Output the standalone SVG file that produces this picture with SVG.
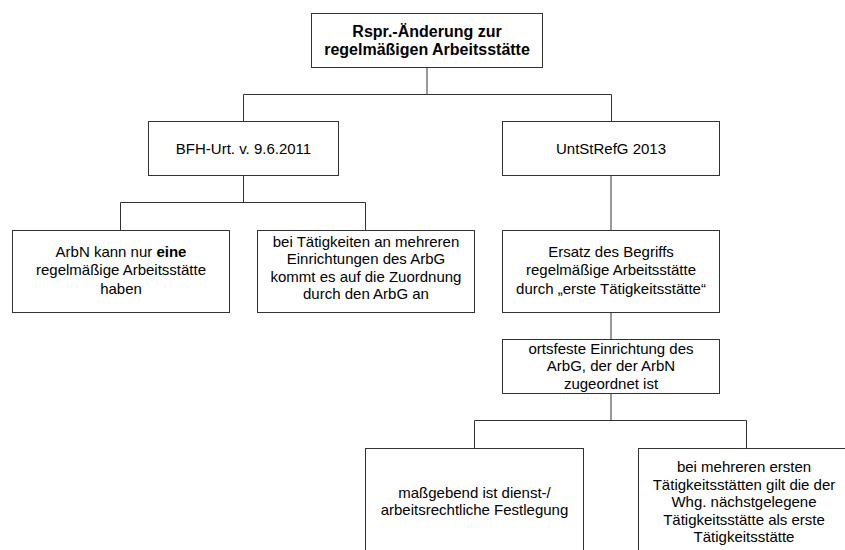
<svg xmlns="http://www.w3.org/2000/svg" width="845" height="550" viewBox="0 0 845 550">
<style>
.box{fill:#fff;stroke:#333;stroke-width:1}
.con{fill:none;stroke:#333;stroke-width:1}
text{font-family:"Liberation Sans",Arial,sans-serif;font-size:15px;fill:#000;text-anchor:middle}
.b{font-weight:bold}
.t{font-size:16px;font-weight:bold}
</style>
<rect width="845" height="550" fill="#fff"/>
<g id="connectors" class="con">
<path d="M427 67V94.5M243.5 121.5V94.5H611.5V121.5"/>
<path d="M243.5 175V202.5M120.5 230V202.5H365.5V230"/>
<path d="M611 175V230M611 312V339"/>
<path d="M611 393V420.5M474.5 448V420.5H746.5V448"/>
</g>
<g id="n-title">
<rect class="box" x="311.5" y="13.5" width="231" height="54"/>
<text class="t" x="427" y="37">Rspr.-Änderung zur</text>
<text class="t" x="427" y="54.5">regelmäßigen Arbeitsstätte</text>
</g>
<g id="n-bfh">
<rect class="box" x="148.5" y="121.5" width="190" height="54"/>
<text x="243.5" y="153.5">BFH-Urt. v. 9.6.2011</text>
</g>
<g id="n-untst">
<rect class="box" x="502.5" y="121.5" width="217" height="54"/>
<text x="611" y="153.5">UntStRefG 2013</text>
</g>
<g id="n-arbn">
<rect class="box" x="12.5" y="230.5" width="217" height="82"/>
<text x="121" y="256.5">ArbN kann nur <tspan class="b">eine</tspan></text>
<text x="121" y="275">regelmäßige Arbeitsstätte</text>
<text x="121" y="293.5">haben</text>
</g>
<g id="n-bei">
<rect class="box" x="257.5" y="230.5" width="217" height="82"/>
<text x="366" y="246.5">bei Tätigkeiten an mehreren</text>
<text x="366" y="264">Einrichtungen des ArbG</text>
<text x="366" y="281.5">kommt es auf die Zuordnung</text>
<text x="366" y="299">durch den ArbG an</text>
</g>
<g id="n-ersatz">
<rect class="box" x="502.5" y="230.5" width="217" height="82"/>
<text x="611" y="256.5">Ersatz des Begriffs</text>
<text x="611" y="275">regelmäßige Arbeitsstätte</text>
<text x="611" y="293.5">durch „erste Tätigkeitsstätte“</text>
</g>
<g id="n-ortsfest">
<rect class="box" x="502.5" y="339.5" width="217" height="54"/>
<text x="611" y="353.5">ortsfeste Einrichtung des</text>
<text x="611" y="371">ArbG, der der ArbN</text>
<text x="611" y="388.5">zugeordnet ist</text>
</g>
<g id="n-massgebend">
<rect class="box" x="365.5" y="448.5" width="218" height="160"/>
<text x="474.5" y="497.5">maßgebend ist dienst-/</text>
<text x="474.5" y="515">arbeitsrechtliche Festlegung</text>
</g>
<g id="n-mehrere">
<rect class="box" x="638.5" y="448.5" width="230" height="160"/>
<text x="744" y="472">bei mehreren ersten</text>
<text x="744" y="489.5">Tätigkeitsstätten gilt die der</text>
<text x="744" y="507">Whg. nächstgelegene</text>
<text x="744" y="524.5">Tätigkeitsstätte als erste</text>
<text x="744" y="542">Tätigkeitsstätte</text>
</g>
</svg>
